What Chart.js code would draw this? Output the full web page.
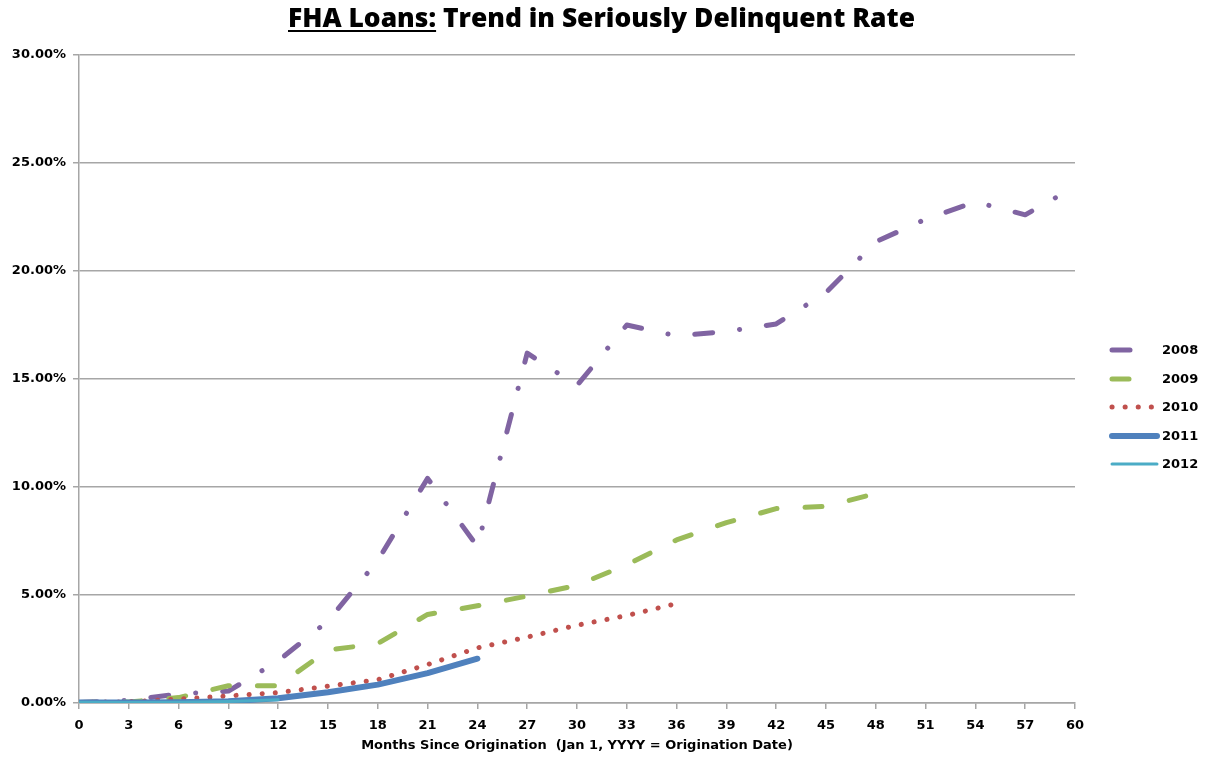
<!DOCTYPE html>
<html>
<head>
<meta charset="utf-8">
<script src="https://cdn.jsdelivr.net/npm/chart.js@4.4.1/dist/chart.umd.min.js"></script>
<style>
  html, body { margin: 0; padding: 0; background: #fff; }
  #wrap { width: 1207px; height: 760px; }
</style>
</head>
<body>
<div id="wrap"><canvas id="chart" width="1207" height="760"></canvas></div>
<script>
// months since origination, one point per quarter
const months = [0, 3, 6, 9, 12, 15, 18, 21, 24, 27, 30, 33, 36, 39, 42, 45, 48, 51, 54, 57, 60];
const years = ["2008", "2009", "2010", "2011", "2012"];

// seriously delinquent rate, in percent
const rate2008 = [0.02, 0.12, 0.42, 0.55, 1.95, 3.8, 6.6, 10.4, 7.25, 16.2, 14.7, 17.5, 17.0, 17.2, 17.55, 19.0, 21.35, 22.4, 23.2, 22.6, 23.9];
const rate2009 = [0.02, 0.05, 0.25, 0.8, 0.8, 2.45, 2.75, 4.1, 4.5, 4.95, 5.45, 6.4, 7.55, 8.35, 9.0, 9.1, 9.7];
const rate2010 = [0.02, 0.06, 0.18, 0.33, 0.48, 0.78, 1.08, 1.78, 2.55, 3.05, 3.6, 4.05, 4.6];
const rate2011 = [0.02, 0.02, 0.03, 0.08, 0.22, 0.5, 0.85, 1.38, 2.05];
const rate2012 = [0.03, 0.02, 0.03, 0.07, 0.15];

const yMax = 30;
const yStep = 5;
const xStep = 3;

const titleLeft = "FHA Loans:";
const titleRight = " Trend in Seriously Delinquent Rate";
const xTitle = "Months Since Origination  (Jan 1, YYYY = Origination Date)";

const gray = "#a6a6a6";
const tickFont = { family: "'DejaVu Sans', sans-serif", size: 13, weight: "bold" };

function points(values) {
    return values.map((v, i) => ({ x: months[i], y: v }));
}

const styles = [
    { color: "#8064a2", width: 5, dash: [18, 27, 0.1, 27] },
    { color: "#9bbb59", width: 5, dash: [17, 28] },
    { color: "#c0504d", width: 5, dash: [0.1, 13] },
    { color: "#4f81bd", width: 6, dash: [] },
    { color: "#4bacc6", width: 3, dash: [] }
];
const series = [rate2008, rate2009, rate2010, rate2011, rate2012];

const datasets = series.map((values, i) => ({
    label: years[i],
    data: points(values),
    borderColor: styles[i].color,
    borderWidth: styles[i].width,
    borderDash: styles[i].dash,
    borderCapStyle: "round",
    borderJoinStyle: "round",
    pointRadius: 0,
    fill: false,
    tension: 0,
    order: series.length - i
}));

// title with the underlined lead-in
const titlePlugin = {
    id: "fhaTitle",
    afterDraw(chart) {
        const ctx = chart.ctx;
        ctx.save();
        ctx.font = "800 27px 'Open Sans', sans-serif";
        ctx.fillStyle = "#000";
        ctx.textBaseline = "alphabetic";
        const w1 = ctx.measureText(titleLeft).width;
        const w2 = ctx.measureText(titleRight).width;
        const target = 627;
        const sx = target / (w1 + w2);
        ctx.translate(288, 0);
        ctx.scale(sx, 1);
        ctx.fillText(titleLeft, 0, 27);
        ctx.fillRect(0, 30, w1, 2);
        ctx.fillText(titleRight, w1, 27);
        ctx.restore();
    }
};

// legend on the right, each sample drawn with its series' stroke
const legendPlugin = {
    id: "sideLegend",
    afterDraw(chart) {
        const ctx = chart.ctx;
        const rows = [350, 379, 407, 436, 464];
        ctx.save();
        chart.data.datasets.forEach((ds, i) => {
            const y = rows[i];
            ctx.strokeStyle = ds.borderColor;
            ctx.lineWidth = ds.borderWidth;
            ctx.lineCap = "round";
            ctx.setLineDash(ds.borderDash);
            ctx.beginPath();
            ctx.moveTo(1112, y);
            ctx.lineTo(1157, y);
            ctx.stroke();
            ctx.setLineDash([]);
            ctx.fillStyle = "#000";
            ctx.font = "bold 13px 'DejaVu Sans', sans-serif";
            ctx.textBaseline = "middle";
            ctx.textAlign = "left";
            ctx.fillText(ds.label, 1162, y + 1);
        });
        ctx.restore();
    }
};

new Chart(document.getElementById("chart"), {
    type: "line",
    data: { datasets: datasets },
    plugins: [titlePlugin, legendPlugin],
    options: {
        responsive: false,
        animation: false,
        layout: { padding: { top: 55, right: 132, left: 0, bottom: 0 } },
        plugins: {
            legend: { display: false },
            tooltip: { enabled: false }
        },
        scales: {
            x: {
                type: "linear",
                min: 0,
                max: 60,
                ticks: {
                    stepSize: xStep,
                    autoSkip: false,
                    maxRotation: 0,
                    color: "#000",
                    font: tickFont,
                    padding: 9
                },
                grid: { drawOnChartArea: false, drawTicks: true, tickLength: 6, color: gray, lineWidth: 1.5 },
                border: { color: gray, width: 1.5 },
                title: {
                    display: true,
                    text: xTitle,
                    color: "#000",
                    font: { family: "'DejaVu Sans', sans-serif", size: 13, weight: "bold" },
                    padding: { top: 0, bottom: 7 }
                },
                afterFit: s => { s.height = 57; }
            },
            y: {
                min: 0,
                max: yMax,
                ticks: {
                    stepSize: yStep,
                    color: "#000",
                    font: tickFont,
                    padding: 7,
                    callback: v => v.toFixed(2) + "%"
                },
                grid: { color: gray, lineWidth: 1.5, tickLength: 6 },
                border: { color: gray, width: 1.5 },
                afterFit: s => { s.width = 79; }
            }
        }
    }
});
</script>
</body>
</html>
